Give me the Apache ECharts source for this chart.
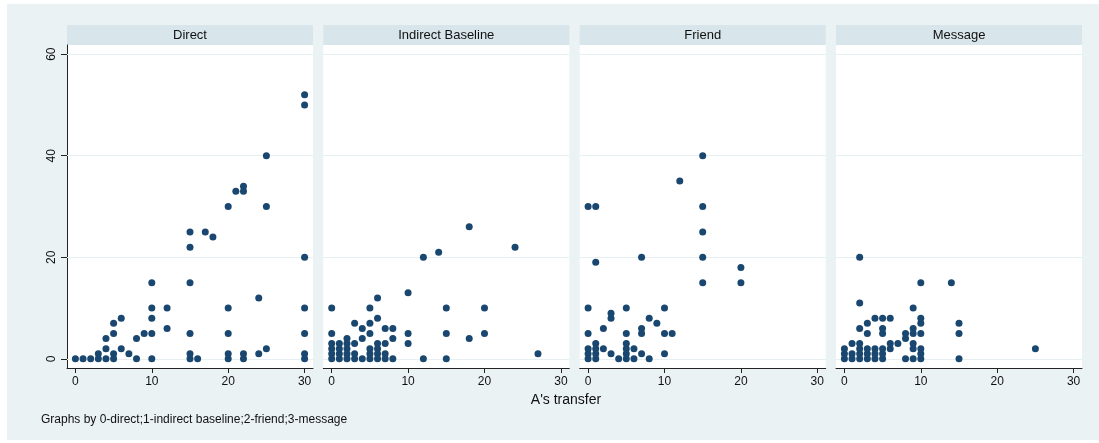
<!DOCTYPE html>
<html>
<head>
<meta charset="utf-8">
<script src="https://cdn.jsdelivr.net/npm/echarts@6/dist/echarts.min.js"></script>
<style>
html,body{margin:0;padding:0;background:#fff;}
#chart{width:1099px;height:443px;}
</style>
</head>
<body>
<div id="chart"></div>
<script>
// ---- data ----
const panelTitles = ['Direct', 'Indirect Baseline', 'Friend', 'Message'];
const xTicks = [0, 10, 20, 30];
const yTicks = [0, 20, 40, 60];
const xTitle = "A's transfer";
const note = 'Graphs by 0-direct;1-indirect baseline;2-friend;3-message';

const directPts = [
  [0,0],[1,0],[2,0],[3,0],[4,0],[5,0],[8,0],[10,0],[15,0],[16,0],[20,0],[22,0],[30,0],
  [3,1],[5,1],[7,1],[15,1],[20,1],[22,1],[24,1],[30,1],
  [4,2],[6,2],[25,2],
  [4,4],[8,4],
  [5,5],[9,5],[10,5],[15,5],[20,5],[30,5],
  [12,6],[5,7],[6,8],[10,8],
  [10,10],[12,10],[20,10],[30,10],
  [24,12],[10,15],[15,15],[30,20],[15,22],[18,24],[15,25],[17,25],
  [20,30],[25,30],[21,33],[22,33],[22,34],[25,40],[30,50],[30,52]
];
const indirectPts = [
  [0,0],[1,0],[2,0],[3,0],[4,0],[5,0],[6,0],[7,0],[8,0],[12,0],[15,0],
  [0,1],[1,1],[2,1],[3,1],[5,1],[6,1],[7,1],[27,1],
  [0,2],[1,2],[2,2],[5,2],[6,2],
  [0,3],[1,3],[2,3],[3,3],[6,3],[7,3],[10,3],
  [2,4],[4,4],[8,4],[18,4],
  [0,5],[5,5],[10,5],[15,5],[20,5],
  [4,6],[7,6],[8,6],[3,7],[5,7],[6,8],
  [0,10],[5,10],[15,10],[20,10],
  [6,12],[10,13],[12,20],[14,21],[24,22],[18,26]
];
const friendPts = [
  [0,0],[1,0],[4,0],[5,0],[6,0],[8,0],
  [0,1],[1,1],[3,1],[5,1],[7,1],[10,1],
  [0,2],[1,2],[2,2],[5,2],[6,2],
  [1,3],[5,3],
  [0,5],[5,5],[7,5],[10,5],[11,5],
  [2,6],[7,6],[9,7],[3,8],[8,8],[3,9],
  [0,10],[5,10],[10,10],
  [15,15],[20,15],[20,18],[1,19],[7,20],[15,20],[15,25],
  [0,30],[1,30],[15,30],[12,35],[15,40]
];
const messagePts = [
  [0,0],[1,0],[2,0],[3,0],[4,0],[5,0],[8,0],[9,0],[10,0],[15,0],
  [0,1],[1,1],[2,1],[3,1],[4,1],[5,1],[10,1],
  [0,2],[2,2],[3,2],[4,2],[5,2],[6,2],[9,2],[10,2],[25,2],
  [1,3],[2,3],[6,3],[7,3],[9,3],
  [8,4],
  [3,5],[5,5],[8,5],[9,5],[10,5],[15,5],
  [2,6],[5,6],[9,6],
  [3,7],[10,7],[15,7],
  [4,8],[5,8],[6,8],[10,8],
  [9,10],[2,11],[10,15],[14,15],[2,20]
];
const panelData = [directPts, indirectPts, friendPts, messagePts];

// ---- layout / style ----
const FONT = 'Liberation Sans, Arial, Helvetica, sans-serif';
const MARK = '#1a476f';
const BG = '#eaf2f3';
const STRIP = '#d8e5ea';
const GRIDLINE = '#e6eff1';
const plotTop = 45, plotH = 323, plotW = 246;
const lefts = [67, 323.3, 579.7, 836];

const grids = [], xAxes = [], yAxes = [], series = [], graphics = [];

graphics.push({type:'rect', z:-10, silent:true,
  shape:{x:7, y:4, width:1092, height:436}, style:{fill:BG}});

lefts.forEach((l, i) => {
  grids.push({left:l, top:plotTop, width:plotW, height:plotH,
    show:true, backgroundColor:'#fff', borderWidth:0});
  xAxes.push({type:'value', gridIndex:i, min:-1.1, max:31.1,
    axisLine:{show:true, onZero:false, lineStyle:{color:'#222', width:1}},
    axisTick:{show:true, length:5, customValues:xTicks, lineStyle:{color:'#222'}},
    axisLabel:{show:true, customValues:xTicks, margin:8, color:'#111', fontSize:12, fontFamily:FONT},
    splitLine:{show:false}});
  yAxes.push({type:'value', gridIndex:i, min:-1.8, max:61.8,
    axisLine:{show:i===0, onZero:false, lineStyle:{color:'#222', width:1}},
    axisTick:{show:i===0, length:6, customValues:yTicks, lineStyle:{color:'#222'}},
    axisLabel:{show:i===0, customValues:yTicks, rotate:90, margin:9, color:'#111', fontSize:12, fontFamily:FONT},
    splitLine:{show:false}});
  // gridlines
  series.push({type:'scatter', xAxisIndex:i, yAxisIndex:i, data:[], z:1, silent:true,
    markLine:{silent:true, z:1, symbol:'none', animation:false, label:{show:false},
      lineStyle:{color:GRIDLINE, width:1.2, type:'solid'},
      data: yTicks.map(v => ({yAxis:v}))}});
  series.push({type:'scatter', xAxisIndex:i, yAxisIndex:i, z:3,
    data: panelData[i], symbol:'circle', symbolSize:7,
    itemStyle:{color:MARK, opacity:1}, animation:false});
  // header strip
  graphics.push({type:'rect', silent:true, shape:{x:l, y:25, width:plotW, height:20}, style:{fill:STRIP}});
  graphics.push({type:'text', silent:true, x:l + plotW/2, y:35,
    style:{text:panelTitles[i], fill:'#111', font:'13px ' + FONT, align:'center', verticalAlign:'middle'}});
});

graphics.push({type:'text', silent:true, x:566, y:400,
  style:{text:xTitle, fill:'#111', font:'14px ' + FONT, align:'center', verticalAlign:'middle'}});
graphics.push({type:'text', silent:true, x:41, y:420,
  style:{text:note, fill:'#111', font:'12px ' + FONT, align:'left', verticalAlign:'middle'}});

const chart = echarts.init(document.getElementById('chart'), null, {renderer:'canvas'});
chart.setOption({
  backgroundColor:'#fff',
  animation:false,
  grid:grids, xAxis:xAxes, yAxis:yAxes, series:series, graphic:graphics
});
</script>
</body>
</html>
